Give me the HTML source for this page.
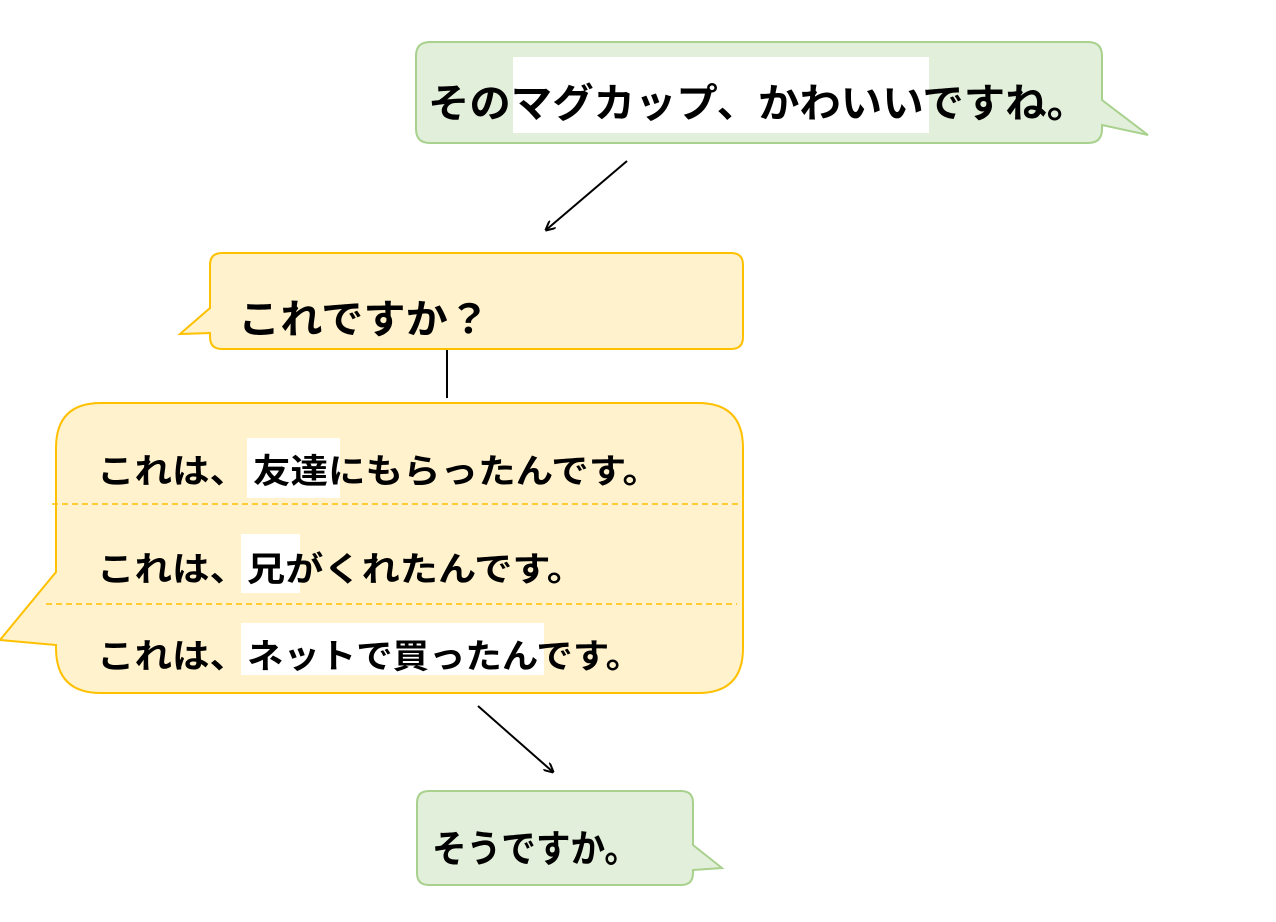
<!DOCTYPE html>
<html><head><meta charset="utf-8"><style>body{margin:0;background:#fff}svg{display:block}text{font-family:"Liberation Sans","Noto Sans CJK JP",sans-serif;fill:#000;font-weight:bold}</style></head><body>
<svg width="1276" height="922" viewBox="0 0 1276 922" xmlns="http://www.w3.org/2000/svg">
<defs><marker id="a" markerWidth="10" markerHeight="10" refX="9" refY="5" orient="auto" markerUnits="userSpaceOnUse"><path d="M0,0 L10,5 L0,10" fill="none" stroke="#000" stroke-width="2"/></marker></defs>
<path d="M430,42 H1088 Q1102,42 1102,56 V100 L1148,135 L1102,125 V129 Q1102,143 1088,143 H430 Q416,143 416,129 V56 Q416,42 430,42 Z" fill="#e2efda" stroke="#a9d18e" stroke-width="2"/>
<rect x="513" y="57" width="416" height="76" fill="#fff"/>
<text x="428" y="117" font-size="40" textLength="660" lengthAdjust="spacingAndGlyphs">そのマグカップ、かわいいですね。</text>
<line x1="627" y1="161" x2="546" y2="230" stroke="#000" stroke-width="2" marker-end="url(#a)"/>
<path d="M222,253 H731 Q743,253 743,265 V337 Q743,349 731,349 H222 Q210,349 210,337 V333 L180,334 L210,308 V265 Q210,253 222,253 Z" fill="#fff2cc" stroke="#ffc000" stroke-width="2"/>
<text x="238" y="333" font-size="40" textLength="252" lengthAdjust="spacingAndGlyphs">これですか？</text>
<line x1="447" y1="350" x2="447" y2="398" stroke="#000" stroke-width="2"/>
<path d="M101,403 H698 Q743,403 743,448 V648 Q743,693 698,693 H101 Q56,693 56,648 V645 L0,640 L56,572 V448 Q56,403 101,403 Z" fill="#fff2cc" stroke="#ffc000" stroke-width="2"/>
<line x1="52" y1="504" x2="743" y2="504" stroke="#ffc000" stroke-width="1.5" stroke-dasharray="6,4"/>
<line x1="46" y1="604" x2="737" y2="604" stroke="#ffc000" stroke-width="1.5" stroke-dasharray="6,4"/>
<rect x="247" y="438" width="93" height="60" fill="#fff"/>
<rect x="241" y="534" width="59" height="59" fill="#fff"/>
<rect x="241" y="623" width="303" height="52" fill="#fff"/>
<text x="97" y="483" font-size="34" textLength="150" lengthAdjust="spacingAndGlyphs">これは、</text>
<text x="253" y="483" font-size="34" textLength="407" lengthAdjust="spacingAndGlyphs">友達にもらったんです。</text>
<text x="97" y="581" font-size="34" textLength="150" lengthAdjust="spacingAndGlyphs">これは、</text>
<text x="247" y="581" font-size="34" textLength="338" lengthAdjust="spacingAndGlyphs">兄がくれたんです。</text>
<text x="97" y="668" font-size="34" textLength="150" lengthAdjust="spacingAndGlyphs">これは、</text>
<text x="247" y="668" font-size="34" textLength="395" lengthAdjust="spacingAndGlyphs">ネットで買ったんです。</text>
<line x1="478" y1="706" x2="553" y2="772" stroke="#000" stroke-width="2" marker-end="url(#a)"/>
<path d="M429,791 H681 Q693,791 693,803 V845 L722,868 L693,870 V873 Q693,885 681,885 H429 Q417,885 417,873 V803 Q417,791 429,791 Z" fill="#e2efda" stroke="#a9d18e" stroke-width="2"/>
<text x="432" y="862" font-size="38" textLength="207" lengthAdjust="spacingAndGlyphs">そうですか。</text>
</svg>
</body></html>
